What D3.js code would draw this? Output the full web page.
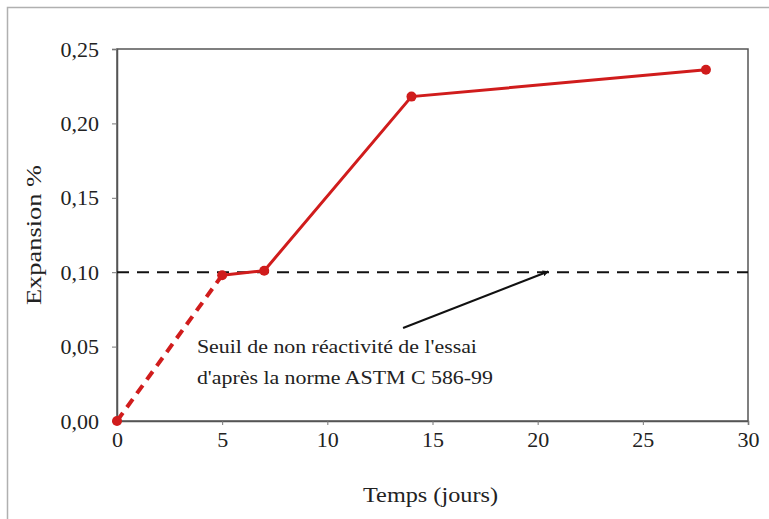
<!DOCTYPE html>
<html><head><meta charset="utf-8">
<script src="https://cdn.jsdelivr.net/npm/d3@7"></script>
<style>body{margin:0;background:#fff}svg{display:block}</style>
</head><body>
<script>
const days = [0, 5, 7, 14, 28];
const expansion = [0.0, 0.098, 0.101, 0.218, 0.236];
const xTicks = [0, 5, 10, 15, 20, 25, 30];
const yTicks = [0, 0.05, 0.10, 0.15, 0.20, 0.25];
const threshold = 0.10;
const noteLines = ["Seuil de non réactivité de l'essai", "d'après la norme ASTM C 586-99"];
const noteWidths = [280, 296];
const notePos = [3.8, 0.046];
const arrowFrom = [13.6, 0.0625];
const arrowTo = [20.5, 0.1005];
const xTitle = "Temps (jours)";
const yTitle = "Expansion %";

const W = 769, H = 519;
const m = {left:117, right:W-748, top:49, bottom:H-421};
const font = "'Liberation Serif', 'Times New Roman', serif";
const svg = d3.select("body").append("svg").attr("width", W).attr("height", H);

svg.append("rect").attr("x",7.5).attr("y",7.5).attr("width",W+10).attr("height",H+10)
  .attr("fill","#fff").attr("stroke","#b0b0b0").attr("stroke-width",1.5);

const x = d3.scaleLinear().domain([0,30]).range([m.left, W-m.right]);
const y = d3.scaleLinear().domain([0,0.25]).range([H-m.bottom, m.top]);

svg.append("rect").attr("x",x(0)).attr("y",y(0.25)).attr("width",x(30)-x(0)).attr("height",y(0)-y(0.25))
  .attr("fill","none").attr("stroke","#555").attr("stroke-width",1.5);

const fmt = d => d3.format(".2f")(d).replace(".", ",");
const ya = svg.append("g").attr("transform",`translate(${x(0)},0)`)
  .call(d3.axisLeft(y).tickValues(yTicks).tickFormat(fmt).tickSize(5).tickPadding(13));
const xa = svg.append("g").attr("transform",`translate(0,${y(0)})`)
  .call(d3.axisBottom(x).tickValues(xTicks).tickSize(4).tickPadding(6));
[ya, xa].forEach(a => {
  a.select(".domain").attr("stroke","#555").attr("stroke-width",1.5);
  a.selectAll(".tick line").attr("stroke","#777");
  a.selectAll("text").attr("font-family",font).attr("font-size",22).attr("fill","#222");
});

svg.append("line").attr("x1",x(0)).attr("x2",x(30)).attr("y1",y(threshold)).attr("y2",y(threshold))
  .attr("stroke","#111").attr("stroke-width",2).attr("stroke-dasharray","12,8");

const line = d3.line().x(d=>x(d[0])).y(d=>y(d[1]));
const pts = days.map((d,i)=>[d, expansion[i]]);
const red = "#d01c1c";
svg.append("path").datum(pts.slice(0,2)).attr("d",line).attr("fill","none")
  .attr("stroke",red).attr("stroke-width",4).attr("stroke-dasharray","10,7");
svg.append("path").datum(pts.slice(1)).attr("d",line).attr("fill","none")
  .attr("stroke",red).attr("stroke-width",3);
svg.selectAll("circle.pt").data(pts).enter().append("circle")
  .attr("cx",d=>x(d[0])).attr("cy",d=>y(d[1])).attr("r",5).attr("fill",red);

svg.append("defs").append("marker").attr("id","ah").attr("viewBox","0 0 10 10")
  .attr("refX",9).attr("refY",5).attr("markerWidth",3).attr("markerHeight",3).attr("orient","auto")
  .append("path").attr("d","M0,0L10,5L0,10z").attr("fill","#111");
svg.append("line").attr("x1",x(arrowFrom[0])).attr("y1",y(arrowFrom[1]))
  .attr("x2",x(arrowTo[0])).attr("y2",y(arrowTo[1]))
  .attr("stroke","#111").attr("stroke-width",2).attr("marker-end","url(#ah)");
noteLines.forEach((t,i)=>svg.append("text").attr("font-family",font).attr("font-size",19).attr("fill","#222")
  .attr("x",x(notePos[0])).attr("y",y(notePos[1])+i*31)
  .attr("textLength",noteWidths[i]).attr("lengthAdjust","spacingAndGlyphs").text(t));

svg.append("text").attr("x",(x(0)+x(30))/2-2).attr("y",502).attr("text-anchor","middle")
  .attr("font-family",font).attr("font-size",22).attr("fill","#222")
  .attr("textLength",135).attr("lengthAdjust","spacingAndGlyphs").text(xTitle);
svg.append("text").attr("transform",`translate(41,${(y(0)+y(0.25))/2}) rotate(-90)`)
  .attr("text-anchor","middle").attr("font-family",font).attr("font-size",22).attr("fill","#222")
  .attr("textLength",140).attr("lengthAdjust","spacingAndGlyphs").text(yTitle);
</script>
</body></html>
